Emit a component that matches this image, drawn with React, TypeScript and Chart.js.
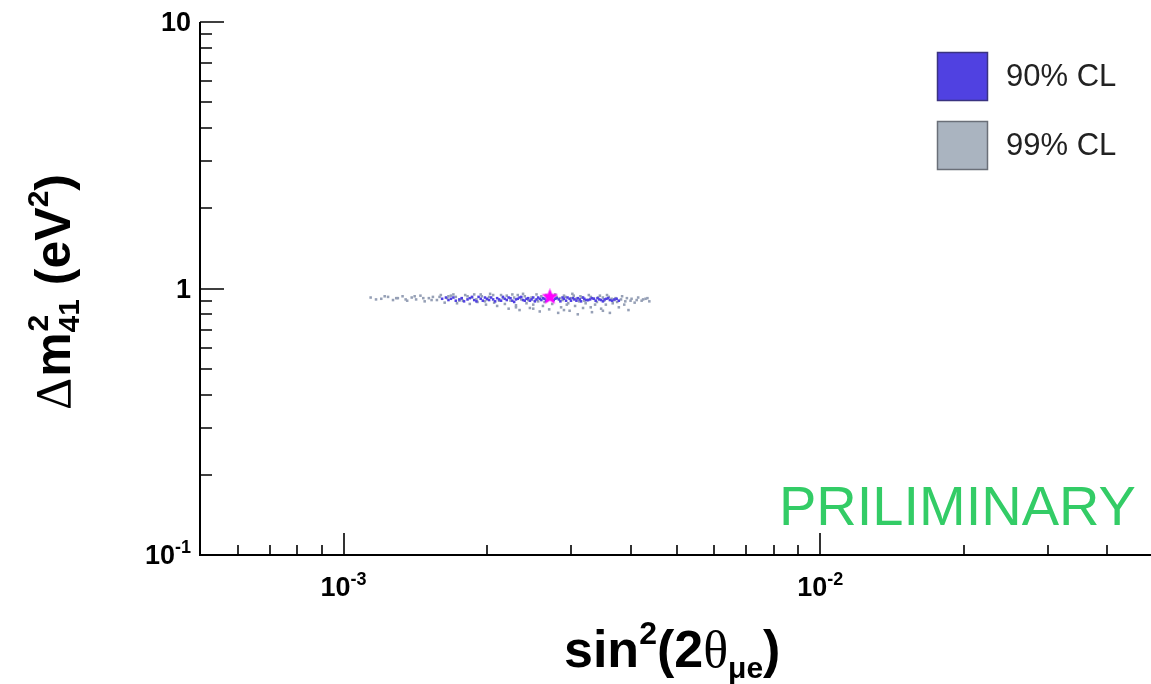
import React, { useEffect, useRef } from "react";
import { Chart, registerables } from "chart.js";

Chart.register(...registerables);

// ---- data ----
const cl99X = [
  1.14e-3, 1.2e-3, 1.24e-3, 1.27e-3, 1.3e-3, 1.33e-3, 1.36e-3, 1.39e-3, 1.42e-3, 1.45e-3, 1.48e-3, 1.51e-3, 1.54e-3, 1.57e-3, 1.6e-3,
  1.63e-3, 1.66e-3, 1.7e-3, 1.73e-3, 1.77e-3, 1.8e-3, 1.84e-3, 1.88e-3, 1.91e-3, 1.95e-3, 1.99e-3, 2.03e-3, 2.07e-3, 2.1e-3, 2.14e-3,
  2.18e-3, 2.22e-3, 2.26e-3, 2.3e-3, 2.34e-3, 2.38e-3, 2.42e-3, 2.46e-3, 2.5e-3, 2.54e-3, 2.58e-3, 2.62e-3, 2.66e-3, 2.7e-3, 2.74e-3,
  2.78e-3, 2.82e-3, 2.86e-3, 2.9e-3, 2.94e-3, 2.98e-3, 3.02e-3, 3.06e-3, 3.1e-3, 3.14e-3, 3.18e-3, 3.22e-3, 3.27e-3, 3.32e-3, 3.37e-3,
  3.42e-3, 3.47e-3, 3.52e-3, 3.57e-3, 3.62e-3, 3.67e-3, 3.72e-3, 3.78e-3, 3.84e-3, 3.9e-3, 3.96e-3, 4.02e-3, 4.08e-3, 4.15e-3, 4.22e-3,
  4.3e-3, 4.38e-3, 1.75e-3, 1.86e-3, 2.0e-3, 2.12e-3, 2.28e-3, 2.44e-3, 2.56e-3, 2.68e-3, 2.88e-3, 3.0e-3, 3.12e-3, 3.25e-3, 3.4e-3,
  3.55e-3, 3.7e-3, 3.88e-3,
  1.17e-3, 1.22e-3, 1.29e-3, 1.35e-3, 1.41e-3, 1.47e-3, 1.53e-3, 1.59e-3, 1.65e-3, 1.68e-3, 1.72e-3, 1.78e-3, 1.82e-3, 1.9e-3, 1.94e-3,
  1.98e-3, 2.02e-3, 2.06e-3, 2.16e-3, 2.2e-3, 2.24e-3, 2.32e-3, 2.36e-3, 2.4e-3, 2.48e-3, 2.52e-3, 2.6e-3, 2.64e-3, 2.72e-3, 2.8e-3,
  2.84e-3, 2.92e-3, 2.96e-3, 3.04e-3, 3.08e-3, 3.16e-3, 3.2e-3, 3.3e-3, 3.35e-3, 3.45e-3, 3.5e-3, 3.6e-3, 3.65e-3, 3.75e-3, 3.82e-3,
  3.93e-3, 4.0e-3, 4.12e-3, 4.25e-3, 4.34e-3, 2.3e-3, 2.5e-3, 2.9e-3, 3.3e-3, 3.5e-3,
];
const cl99Y = [
  0.925, 0.915, 0.93, 0.905, 0.92, 0.935, 0.9, 0.925, 0.91, 0.94, 0.895, 0.92, 0.93, 0.905, 0.945,
  0.885, 0.935, 0.95, 0.88, 0.915, 0.945, 0.875, 0.95, 0.89, 0.935, 0.87, 0.955, 0.885, 0.86, 0.945,
  0.875, 0.84, 0.95, 0.865, 0.83, 0.955, 0.88, 0.845, 0.87, 0.95, 0.82, 0.86, 0.945, 0.835, 0.875,
  0.95, 0.81, 0.85, 0.94, 0.87, 0.825, 0.955, 0.86, 0.8, 0.935, 0.845, 0.88, 0.945, 0.815, 0.87,
  0.925, 0.84, 0.9, 0.945, 0.81, 0.88, 0.92, 0.85, 0.935, 0.895, 0.83, 0.915, 0.885, 0.925, 0.9,
  0.915, 0.895, 0.9, 0.925, 0.91, 0.9, 0.925, 0.905, 0.895, 0.91, 0.905, 0.92, 0.895, 0.905, 0.89,
  0.87, 0.905, 0.87,
  0.91, 0.935, 0.92, 0.91, 0.935, 0.92, 0.905, 0.93, 0.92, 0.94, 0.93, 0.9, 0.935, 0.91, 0.95,
  0.895, 0.93, 0.945, 0.92, 0.94, 0.9, 0.945, 0.91, 0.935, 0.925, 0.9, 0.935, 0.89, 0.945, 0.93,
  0.92, 0.93, 0.88, 0.94, 0.915, 0.925, 0.9, 0.93, 0.915, 0.94, 0.925, 0.93, 0.915, 0.89, 0.91,
  0.92, 0.9, 0.905, 0.91, 0.92, 0.85, 0.84, 0.83, 0.85, 0.825,
];
const cl90X = [
  1.61e-3, 1.66e-3, 1.7e-3, 1.75e-3, 1.79e-3, 1.84e-3, 1.88e-3, 1.92e-3, 1.96e-3, 2.0e-3, 2.04e-3, 2.08e-3, 2.12e-3, 2.16e-3, 2.2e-3,
  2.24e-3, 2.28e-3, 2.32e-3, 2.36e-3, 2.4e-3, 2.44e-3, 2.48e-3, 2.52e-3, 2.56e-3, 2.6e-3, 2.64e-3, 2.68e-3, 2.76e-3, 2.8e-3, 2.85e-3,
  2.9e-3, 2.95e-3, 3.0e-3, 3.05e-3, 3.1e-3, 3.15e-3, 3.2e-3, 3.26e-3, 3.32e-3, 3.38e-3, 3.44e-3, 3.5e-3, 3.56e-3, 3.62e-3, 3.7e-3, 3.78e-3,
  1.64e-3, 1.68e-3, 1.72e-3, 1.77e-3, 1.82e-3, 1.86e-3, 1.9e-3, 1.94e-3, 1.98e-3, 2.02e-3, 2.06e-3, 2.1e-3, 2.14e-3, 2.18e-3, 2.22e-3,
  2.26e-3, 2.3e-3, 2.34e-3, 2.38e-3, 2.42e-3, 2.46e-3, 2.5e-3, 2.54e-3, 2.58e-3, 2.62e-3, 2.66e-3, 2.78e-3, 2.83e-3, 2.88e-3, 2.93e-3,
  2.98e-3, 3.03e-3, 3.08e-3, 3.13e-3, 3.18e-3, 3.23e-3, 3.29e-3, 3.35e-3, 3.41e-3, 3.47e-3, 3.53e-3, 3.59e-3, 3.66e-3, 3.74e-3,
];
const cl90Y = [
  0.915, 0.905, 0.925, 0.91, 0.895, 0.92, 0.905, 0.93, 0.9, 0.915, 0.925, 0.895, 0.91, 0.93, 0.905,
  0.92, 0.89, 0.915, 0.93, 0.9, 0.92, 0.91, 0.895, 0.925, 0.905, 0.915, 0.93, 0.905, 0.92, 0.895,
  0.915, 0.925, 0.9, 0.91, 0.92, 0.895, 0.915, 0.905, 0.92, 0.9, 0.91, 0.895, 0.915, 0.905, 0.91, 0.9,
  0.925, 0.915, 0.9, 0.92, 0.91, 0.93, 0.895, 0.915, 0.925, 0.905, 0.91, 0.92, 0.9, 0.915, 0.925,
  0.9, 0.91, 0.925, 0.905, 0.915, 0.9, 0.925, 0.91, 0.915, 0.92, 0.9, 0.915, 0.91, 0.925, 0.9,
  0.915, 0.92, 0.9, 0.91, 0.925, 0.905, 0.91, 0.915, 0.92, 0.905, 0.91, 0.92, 0.9, 0.915,
];
const bestFitX = [2.71e-3];
const bestFitY = [0.93];

const xRange = [5e-4, 4.94e-2];
const yRange = [0.1, 10];
const xMajorTicks = [1e-3, 1e-2];
const xMajorLabels = [["10", "-3"], ["10", "-2"]];
const xMinorTicks = [6e-4, 7e-4, 8e-4, 9e-4, 2e-3, 3e-3, 4e-3, 5e-3, 6e-3, 7e-3, 8e-3, 9e-3, 2e-2, 3e-2, 4e-2];
const yMajorTicks = [0.1, 1, 10];
const yMajorLabels = [["10", "-1"], ["1", ""], ["10", ""]];
const yMinorTicks = [0.2, 0.3, 0.4, 0.5, 0.6, 0.7, 0.8, 0.9, 2, 3, 4, 5, 6, 7, 8, 9];
const legendLabels = ["90% CL", "99% CL"];
const watermark = "PRILIMINARY";

const FONT = '"Liberation Sans", Arial, Helvetica, sans-serif';

function makeStar(size: number, color: string) {
  const c = document.createElement("canvas");
  c.width = size;
  c.height = size;
  const g = c.getContext("2d")!;
  const cx = size / 2, cy = size / 2, R = size / 2, r = R * 0.45;
  g.beginPath();
  for (let i = 0; i < 10; i++) {
    const a = -Math.PI / 2 + (i * Math.PI) / 5;
    const rad = i % 2 === 0 ? R : r;
    const px = cx + rad * Math.cos(a), py = cy + rad * Math.sin(a);
    if (i === 0) g.moveTo(px, py);
    else g.lineTo(px, py);
  }
  g.closePath();
  g.fillStyle = color;
  g.fill();
  return c;
}

const decorPlugin = {
  id: "rootStyleAxes",
  afterDraw(chart: any) {
    const ctx: CanvasRenderingContext2D = chart.ctx;
    const area = chart.chartArea;
    const xs = chart.scales.x;
    const ys = chart.scales.y;
    ctx.save();
    ctx.strokeStyle = "#000";
    ctx.fillStyle = "#000";
    ctx.lineWidth = 2;
    ctx.beginPath();
    ctx.moveTo(area.left, area.top);
    ctx.lineTo(area.left, area.bottom);
    ctx.lineTo(area.right, area.bottom);
    ctx.stroke();
    ctx.lineWidth = 1.6;
    ctx.beginPath();
    xMinorTicks.forEach((v) => {
      const px = Math.round(xs.getPixelForValue(v));
      ctx.moveTo(px, area.bottom);
      ctx.lineTo(px, area.bottom - 10);
    });
    xMajorTicks.forEach((v) => {
      const px = Math.round(xs.getPixelForValue(v));
      ctx.moveTo(px, area.bottom);
      ctx.lineTo(px, area.bottom - 22);
    });
    yMinorTicks.forEach((v) => {
      const py = Math.round(ys.getPixelForValue(v));
      ctx.moveTo(area.left, py);
      ctx.lineTo(area.left + 12, py);
    });
    yMajorTicks.forEach((v) => {
      const py = Math.round(ys.getPixelForValue(v));
      ctx.moveTo(area.left, py);
      ctx.lineTo(area.left + 24, py);
    });
    ctx.stroke();

    const baseFont = `bold 27px ${FONT}`;
    const expFont = `bold 18px ${FONT}`;
    const drawPow = (base: string, exp: string, x: number, y: number, align: string) => {
      ctx.font = baseFont;
      const wb = ctx.measureText(base).width;
      ctx.font = expFont;
      const we = exp ? ctx.measureText(exp).width : 0;
      const w = wb + we;
      let x0 = x;
      if (align === "center") x0 = x - w / 2;
      else if (align === "right") x0 = x - w;
      ctx.textAlign = "left";
      ctx.textBaseline = "alphabetic";
      ctx.font = baseFont;
      ctx.fillText(base, x0, y);
      if (exp) {
        ctx.font = expFont;
        ctx.fillText(exp, x0 + wb, y - 11);
      }
    };
    xMajorTicks.forEach((v, i) => {
      const px = xs.getPixelForValue(v);
      drawPow(xMajorLabels[i][0], xMajorLabels[i][1], px, area.bottom + 41, "center");
    });
    yMajorTicks.forEach((v, i) => {
      const py = ys.getPixelForValue(v);
      drawPow(yMajorLabels[i][0], yMajorLabels[i][1], area.left - 9, py + 9, "right");
    });

    // x title: sin^2(2θ_μe)
    {
      let x = 564;
      const y = 667;
      const big = `bold 52px ${FONT}`;
      const sup = `bold 32px ${FONT}`;
      const piece = (t: string, f: string, dy: number) => {
        ctx.font = f;
        ctx.fillText(t, x, y + dy);
        x += ctx.measureText(t).width;
      };
      ctx.textAlign = "left";
      piece("sin", big, 0);
      piece("2", sup, -23);
      piece("(2", big, 0);
      piece("θ", `52px "Liberation Serif", serif`, 0);
      piece("μe", `bold 30px ${FONT}`, 11);
      piece(")", big, 0);
    }
    // y title: Δm^2_41 (eV^2)
    {
      ctx.save();
      ctx.translate(70, 410);
      ctx.rotate(-Math.PI / 2);
      let x = 0;
      const big = `bold 50px ${FONT}`;
      const small = `bold 30px ${FONT}`;
      ctx.textAlign = "left";
      ctx.font = `50px "Liberation Serif", serif`;
      ctx.fillText("Δ", x, 0);
      x += ctx.measureText("Δ").width + 1;
      ctx.font = big;
      ctx.fillText("m", x, 0);
      x += ctx.measureText("m").width;
      ctx.font = small;
      ctx.fillText("2", x + 1, -22);
      ctx.fillText("41", x, 9);
      x += ctx.measureText("41").width;
      ctx.font = big;
      ctx.fillText(" (eV", x, 0);
      x += ctx.measureText(" (eV").width;
      ctx.font = small;
      ctx.fillText("2", x, -22);
      x += ctx.measureText("2").width;
      ctx.font = big;
      ctx.fillText(")", x, 0);
      ctx.restore();
    }

    // legend
    const ds = chart.data.datasets;
    const boxes = [
      { y: 52, fill: ds[1].backgroundColor, border: "#3a3380" },
      { y: 121, fill: "#aab4c0", border: "#6a6f78" },
    ];
    boxes.forEach((b, i) => {
      ctx.fillStyle = b.fill;
      ctx.fillRect(937, b.y, 51, 49);
      ctx.strokeStyle = b.border;
      ctx.lineWidth = 1.5;
      ctx.strokeRect(937.5, b.y + 0.5, 50, 48);
      ctx.fillStyle = "#222";
      ctx.font = `31px ${FONT}`;
      ctx.textBaseline = "middle";
      ctx.fillText(legendLabels[i], 1006, b.y + 25);
    });

    // watermark
    ctx.textBaseline = "alphabetic";
    ctx.fillStyle = "#33cc66";
    ctx.font = `56px ${FONT}`;
    ctx.fillText(watermark, 779, 525);
    ctx.restore();
  },
};

export default function App() {
  const ref = useRef<HTMLCanvasElement | null>(null);
  useEffect(() => {
    if (!ref.current) return;
    const star = makeStar(17, "#ff00ff");
    const chart = new Chart(ref.current, {
      type: "scatter",
      data: {
        datasets: [
          {
            label: "best fit",
            data: bestFitX.map((x, i) => ({ x, y: bestFitY[i] })),
            pointStyle: star as any,
            pointRadius: 8,
            order: 0,
          },
          {
            label: legendLabels[0],
            data: cl90X.map((x, i) => ({ x, y: cl90Y[i] })),
            backgroundColor: "rgb(80,65,225)",
            borderColor: "rgb(60,50,215)",
            borderWidth: 0,
            pointStyle: "rect",
            pointRadius: 1.8,
            order: 1,
          },
          {
            label: legendLabels[1],
            data: cl99X.map((x, i) => ({ x, y: cl99Y[i] })),
            backgroundColor: "rgb(150,160,182)",
            borderColor: "rgb(150,160,182)",
            borderWidth: 0,
            pointStyle: "rect",
            pointRadius: 1.8,
            order: 2,
          },
        ],
      },
      options: {
        animation: false,
        responsive: false,
        devicePixelRatio: 1,
        layout: { autoPadding: false, padding: { left: 200, top: 22, right: 0, bottom: 129 } },
        scales: {
          x: { type: "logarithmic", min: xRange[0], max: xRange[1], display: false },
          y: { type: "logarithmic", min: yRange[0], max: yRange[1], display: false },
        },
        plugins: { legend: { display: false }, tooltip: { enabled: false } },
      },
      plugins: [decorPlugin],
    });
    return () => chart.destroy();
  }, []);
  return (
    <div style={{ position: "absolute", left: 0, top: 0, width: 1151, height: 684, background: "#fff" }}>
      <canvas ref={ref} width={1151} height={684} />
    </div>
  );
}
